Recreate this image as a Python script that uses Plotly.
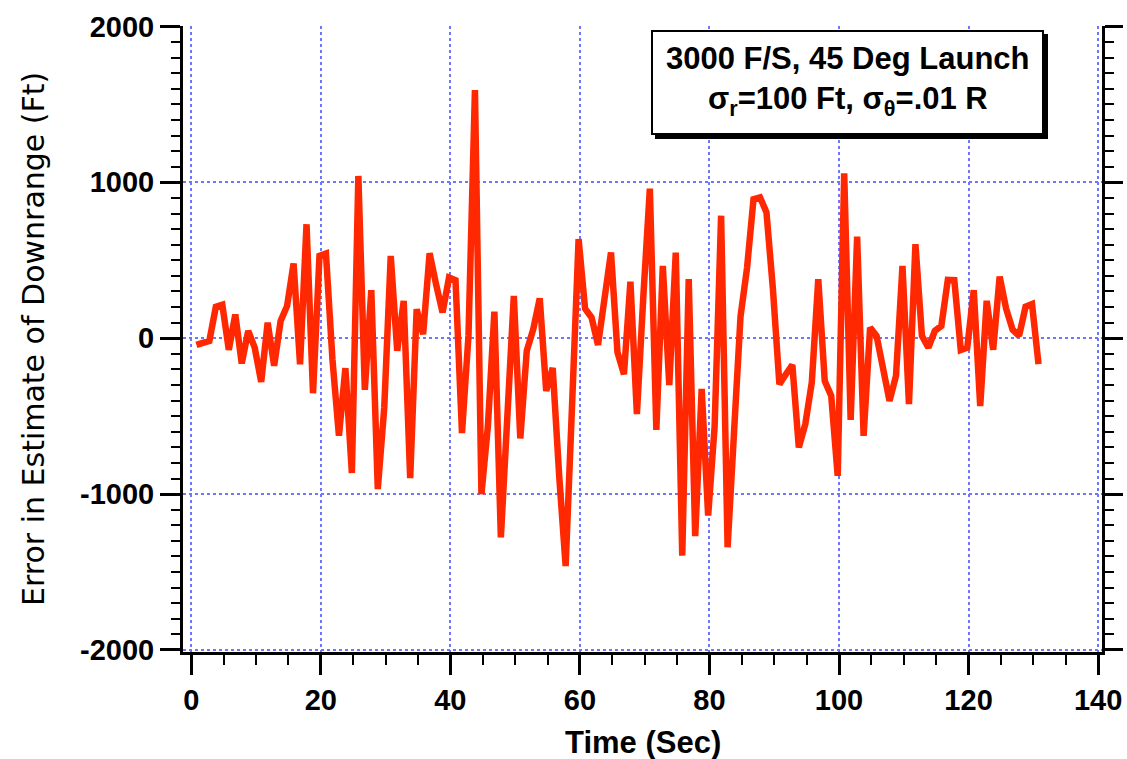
import plotly.graph_objects as go

# Sample times (s) and downrange estimation error (ft)
time_s = [
    0.8, 1.8, 2.8, 3.8, 4.8, 5.8, 6.8, 7.8, 8.8, 9.8,
    10.8, 11.8, 12.8, 13.8, 14.8, 15.8, 16.8, 17.8, 18.8, 19.8,
    20.8, 21.8, 22.8, 23.8, 24.8, 25.8, 26.8, 27.8, 28.8, 29.8,
    30.8, 31.8, 32.8, 33.8, 34.8, 35.8, 36.8, 37.8, 38.8, 39.8,
    40.8, 41.8, 42.8, 43.8, 44.8, 45.8, 46.8, 47.8, 48.8, 49.8,
    50.8, 51.8, 52.8, 53.8, 54.8, 55.8, 56.8, 57.8, 58.8, 59.8,
    60.8, 61.8, 62.8, 63.8, 64.8, 65.8, 66.8, 67.8, 68.8, 69.8,
    70.8, 71.8, 72.8, 73.8, 74.8, 75.8, 76.8, 77.8, 78.8, 79.8,
    80.8, 81.8, 82.8, 83.8, 84.8, 85.8, 86.8, 87.8, 88.8, 89.8,
    90.8, 91.8, 92.8, 93.8, 94.8, 95.8, 96.8, 97.8, 98.8, 99.8,
    100.8, 101.8, 102.8, 103.8, 104.8, 105.8, 106.8, 107.8, 108.8, 109.8,
    110.8, 111.8, 112.8, 113.8, 114.8, 115.8, 116.8, 117.8, 118.8, 119.8,
    120.8, 121.8, 122.8, 123.8, 124.8, 125.8, 126.8, 127.8, 128.8, 129.8,
    130.8,
]
error_ft = [
    -43, -32, -17, 201, 214, -75, 152, -162, 47, -60,
    -280, 100, -177, 111, 207, 479, -167, 731, -353, 528,
    543, -135, -626, -192, -865, 1041, -331, 308, -968, -444,
    528, -81, 239, -898, 186, 26, 545, 346, 165, 389,
    372, -609, 15, 1592, -1000, -562, 171, -1278, -477, 271,
    -643, -81, 58, 256, -338, -190, -881, -1462, -420, 636,
    190, 133, -43, 250, 550, -90, -231, 363, -487, 271,
    960, -588, 464, -301, 549, -1395, 380, -1270, -325, -1138,
    -565, 786, -1341, -600, 140, 450, 892, 904, 808, 314,
    -295, -231, -171, -701, -551, -284, 378, -274, -370, -883,
    1058, -524, 652, -626, 68, 15, -200, -402, -241, 464,
    -423, 603, 15, -60, 47, 79, 374, 372, -75, -60,
    308, -435, 240, -74, 395, 190, 55, 15, 202, 219,
    -166,
]

x_ticks = [0, 20, 40, 60, 80, 100, 120, 140]
y_ticks = [-2000, -1000, 0, 1000, 2000]
x_range = [-1.27, 140.6]
y_range = [-2013, 2003]

box_line1 = "3000 F/S, 45 Deg Launch"
box_line2 = "\u03c3<sub>r</sub>=100 Ft, \u03c3<sub>\u03b8</sub>=.01 R"

W, H = 1127, 759
M_L, M_R, M_T, M_B = 183, 25, 26, 107
plot_w = W - M_L - M_R
plot_h = H - M_T - M_B

GRID = "rgb(112,118,250)"
RED = "rgb(255,40,0)"
FONT = "Liberation Sans, Arial, sans-serif"


def px_x(p):
    return (p - M_L) / plot_w


def px_y(p):
    return (H - M_B - p) / plot_h


fig = go.Figure()
fig.add_trace(go.Scatter(
    x=time_s, y=error_ft, mode="lines",
    line=dict(color=RED, width=6.5),
    showlegend=False, hoverinfo="skip",
))
# invisible trace to carry the mirrored right-hand axis
fig.add_trace(go.Scatter(
    x=[time_s[0]], y=[error_ft[0]], yaxis="y2", mode="lines",
    line=dict(width=0), showlegend=False, hoverinfo="skip",
))

tick_font = dict(family=FONT, size=29, color="black", weight="bold")

fig.update_layout(
    width=W, height=H,
    margin=dict(l=M_L, r=M_R, t=M_T, b=M_B, pad=0, autoexpand=False),
    paper_bgcolor="white", plot_bgcolor="white",
    showlegend=False,
    xaxis=dict(
        range=x_range, tickvals=x_ticks, ticktext=[str(v) for v in x_ticks],
        showline=True, linecolor="black", linewidth=3,
        ticks="outside", ticklen=20, tickwidth=3, tickcolor="black",
        minor=dict(dtick=5, tick0=0, ticks="outside", ticklen=10,
                   tickwidth=2, tickcolor="black", showgrid=False),
        showgrid=True, gridcolor=GRID, gridwidth=2, griddash="dot",
        zeroline=False, tickfont=tick_font, ticklabelstandoff=0,
        automargin=False,
    ),
    yaxis=dict(
        range=y_range, tickvals=y_ticks, ticktext=[str(v) for v in y_ticks],
        showline=True, linecolor="black", linewidth=3,
        ticks="outside", ticklen=20, tickwidth=3, tickcolor="black",
        minor=dict(dtick=100, tick0=0, ticks="outside", ticklen=9,
                   tickwidth=2, tickcolor="black", showgrid=False),
        showgrid=True, gridcolor=GRID, gridwidth=2, griddash="dot",
        zeroline=False, tickfont=tick_font, ticklabelstandoff=0,
        automargin=False,
    ),
    yaxis2=dict(
        overlaying="y", side="right", matches="y", range=y_range,
        tickvals=y_ticks, showticklabels=False,
        showline=True, linecolor="black", linewidth=3,
        ticks="outside", ticklen=18, tickwidth=3, tickcolor="black",
        minor=dict(dtick=100, tick0=0, ticks="outside", ticklen=9,
                   tickwidth=2, tickcolor="black", showgrid=False),
        showgrid=False, zeroline=False, automargin=False,
    ),
)

# axis titles
fig.add_annotation(
    text="Error in Estimate of Downrange (Ft)", textangle=-90,
    xref="paper", yref="paper", x=0, y=0.5, xanchor="center", yanchor="middle",
    xshift=33 - M_L, showarrow=False,
    font=dict(family="DejaVu Sans, sans-serif", size=30, color="black"),
)
fig.add_annotation(
    text="Time (Sec)",
    xref="paper", yref="paper", x=0.5, y=0, xanchor="center", yanchor="middle",
    yshift=-90, showarrow=False,
    font=dict(family=FONT, size=31, color="black", weight="bold"),
)

# label box with drop shadow
bx0, bx1, by0, by1 = 652, 1043, 31, 134
fig.add_shape(type="rect", xref="paper", yref="paper",
              x0=px_x(bx0 + 4), x1=px_x(bx1 + 4), y0=px_y(by1 + 4), y1=px_y(by0 + 4),
              line=dict(color="black", width=2), fillcolor="black", layer="above")
fig.add_shape(type="rect", xref="paper", yref="paper",
              x0=px_x(bx0), x1=px_x(bx1), y0=px_y(by1), y1=px_y(by0),
              line=dict(color="black", width=2), fillcolor="white", layer="above")
fig.add_annotation(
    text=box_line1, xref="paper", yref="paper",
    x=px_x((bx0 + bx1) / 2), y=px_y(58), xanchor="center", yanchor="middle",
    showarrow=False, font=dict(family=FONT, size=31, color="black", weight="bold"),
)
fig.add_annotation(
    text=box_line2, xref="paper", yref="paper",
    x=px_x((bx0 + bx1) / 2), y=px_y(101), xanchor="center", yanchor="middle",
    showarrow=False, font=dict(family=FONT, size=31, color="black", weight="bold"),
)

fig.write_html("out.html")
